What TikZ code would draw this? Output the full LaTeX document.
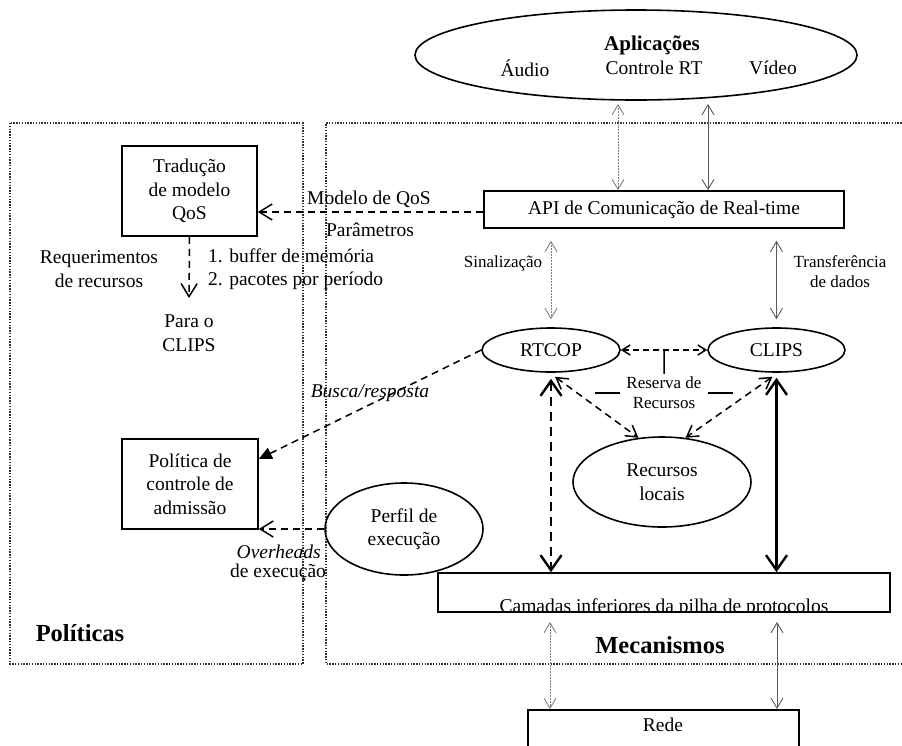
\documentclass[tikz,border=0pt]{standalone}
\usepackage{fontspec}
\setmainfont{Liberation Serif}
\usetikzlibrary{arrows.meta,shapes.geometric,calc}
\tikzset{
  box/.style={draw,line width=1.6pt,rectangle,inner sep=0pt},
  ell/.style={draw,line width=1.6pt,ellipse,inner sep=0pt},
  txt/.style={font=\fontsize{19.5}{23.5}\selectfont,align=center,inner sep=1pt},
  sml/.style={font=\fontsize{17}{20}\selectfont,align=center,inner sep=1pt},
  big/.style={font=\fontsize{24.5}{28}\selectfont\bfseries,inner sep=0pt},
  dsh/.style={line width=1.5pt,dash pattern=on 7pt off 5pt,>={Straight Barb[length=13pt,width=16pt]}},
  dshs/.style={line width=1.5pt,dash pattern=on 6pt off 4pt,>={Straight Barb[length=8pt,width=10pt]}},
  dshm/.style={line width=1.5pt,dash pattern=on 7pt off 5pt,>={Straight Barb[length=11pt,width=13pt]}},
  tdsh/.style={line width=2.4pt,dash pattern=on 9pt off 6pt,>={Straight Barb[length=15pt,width=21pt]}},
  thk/.style={line width=2.4pt,>={Straight Barb[length=15pt,width=21pt]}},
  gdot/.style={line width=0.9pt,gray,dash pattern=on 1.5pt off 1.5pt,>={Straight Barb[length=10pt,width=12pt,line width=0.9pt]}},
  gsol/.style={line width=0.9pt,black!65,>={Straight Barb[length=10pt,width=12pt]}},
  frame/.style={line width=1.4pt,black!80,dash pattern=on 1.4pt off 1.4pt},
}
\begin{document}
\begin{tikzpicture}[x=1pt,y=-1pt]
\useasboundingbox (0,0) rectangle (902,745);
\clip (0,0) rectangle (902,745);

% containers
\draw[frame] (10,123) rectangle (303,664);
\draw[frame] (910,123) -- (326,123) -- (326,664) -- (910,664);
\node[big,anchor=base] (polt) at (80,641) {Políticas};
\node[big,anchor=base] (mect) at (660,653) {Mecanismos};

% applications
\node[ell,minimum width=442,minimum height=90] (app) at (636,55) {};
\node[txt,font=\fontsize{21}{24}\selectfont\bfseries] (aplt) at (652,45) {Aplicações};
\node[txt] (audio) at (525,68) {Áudio};
\node[txt] (ctrl) at (654,68) {Controle RT};
\node[txt] (video) at (773,68) {Vídeo};

% API
\node[box,minimum width=360,minimum height=37] (api) at (664,209.5) {};
\node[txt] (apit) at (664,210) {API de Comunicação de Real-time};

% Traducao
\node[box,minimum width=135,minimum height=90,txt,inner sep=0pt] (trad) at (189.5,191) {Tradução\\de modelo\\QoS};

% Politica
\node[box,minimum width=136,minimum height=90,txt,inner sep=0pt] (pol) at (190,484) {Política de\\controle de\\admissão};

% ellipses
\node[ell,minimum width=158,minimum height=92,txt,inner sep=0pt] (perfil) at (404,529) {Perfil de\\execução};
\node[ell,minimum width=138,minimum height=44,txt,inner sep=0pt] (rtcop) at (551,350) {RTCOP};
\node[ell,minimum width=137,minimum height=44,txt,inner sep=0pt] (clips) at (776.5,350) {CLIPS};
\node[ell,minimum width=178,minimum height=90,txt,inner sep=0pt] (rec) at (662,482) {Recursos\\locais};

% Camadas (text clipped at the bottom)
\begin{scope}
\clip (438,573) rectangle (890,612);
\node[txt,anchor=base] (camt) at (664,612) {Camadas inferiores da pilha de protocolos};
\end{scope}
\node[box,minimum width=452,minimum height=39] (cam) at (664,592.5) {};

% Rede
\node[box,minimum width=271,minimum height=70,anchor=north] (rede) at (663.5,709) {};
\node[txt] (redet) at (663,725) {Rede};

% labels
\node[txt,anchor=west] (modl) at (306,199) {Modelo de QoS};
\node[txt] (parl) at (370,230) {Parâmetros};
\node[txt] (reql) at (99,269) {Requerimentos\\de recursos};
\node[txt,align=left,anchor=west] (bufl) at (207,269) {1. buffer de memória\\2. pacotes por período};
\node[txt] (para) at (189,333) {Para o\\CLIPS};
\node[txt,font=\fontsize{19.5}{23.5}\selectfont\itshape] (busl) at (370,393) {Busca/resposta};
\node[txt,anchor=east,font=\fontsize{19.5}{23.5}\selectfont\itshape] (ovl) at (322,552) {Overheads};
\node[txt] (dexl) at (278,573) {de execução};
\node[sml] (sinl) at (503,263) {Sinalização};
\node[sml] (trl) at (840,272) {Transferência\\de dados};

% connectors: applications <-> API
\coordinate (a1) at (618,104);
\coordinate (a2) at (708,104);
\draw[gdot,<->] (a1) -- (a1 |- api.north);
\draw[gsol,<->] (a2) -- (a2 |- api.north);

% API <-> RTCOP / CLIPS
\draw[gdot,<->] ([yshift=-12pt]api.south -| rtcop.north) -- ([yshift=8pt]rtcop.north);
\draw[gsol,<->] ([yshift=-12pt]api.south -| clips.north) -- ([yshift=8pt]clips.north);

% API -> traducao
\draw[dsh,->] (api.west |- 0,212) -- (trad.east |- 0,212);
% traducao -> para o CLIPS
\coordinate (pdown) at (189,298);
\draw[dsh,->] (trad.south) -- (pdown);

% RTCOP -> politica
\draw[dsh,-{Triangle[length=13pt,width=12pt]}] (rtcop.west) -- ([yshift=25pt]pol.east);
% perfil -> politica
\draw[dsh,->] (perfil.west) -- (perfil.west -| pol.east);

% RTCOP <-> CLIPS
\draw[dshs,<->] (rtcop.east) -- (clips.west);
\node[sml,fill=white,inner sep=3pt] (resl) at (664,393) {Reserva de\\Recursos};
\draw[line width=1.5pt] ($(rtcop.east)!0.5!(clips.west)$) -- (resl.north);
\draw[line width=1.5pt,dash pattern=on 25pt off 88pt] (595,393) -- (733,393);

% to recursos locais
\draw[dshm,<->] ([yshift=-4pt]rtcop.-80) -- (rec.118);
\draw[dshm,<->] ([yshift=-4pt]clips.-100) -- (rec.62);

% down to camadas
\draw[tdsh,<->] ([yshift=-6pt]rtcop.south) -- (rtcop.south |- cam.north);
\draw[thk,<->] ([yshift=-5pt]clips.south) -- (clips.south |- cam.north);

% camadas <-> rede
\coordinate (c1) at (550,622);
\coordinate (c2) at (777,622);
\draw[gdot,<->] (c1) -- (c1 |- rede.north);
\draw[gsol,<->] (c2) -- (c2 |- rede.north);
\end{tikzpicture}
\end{document}
